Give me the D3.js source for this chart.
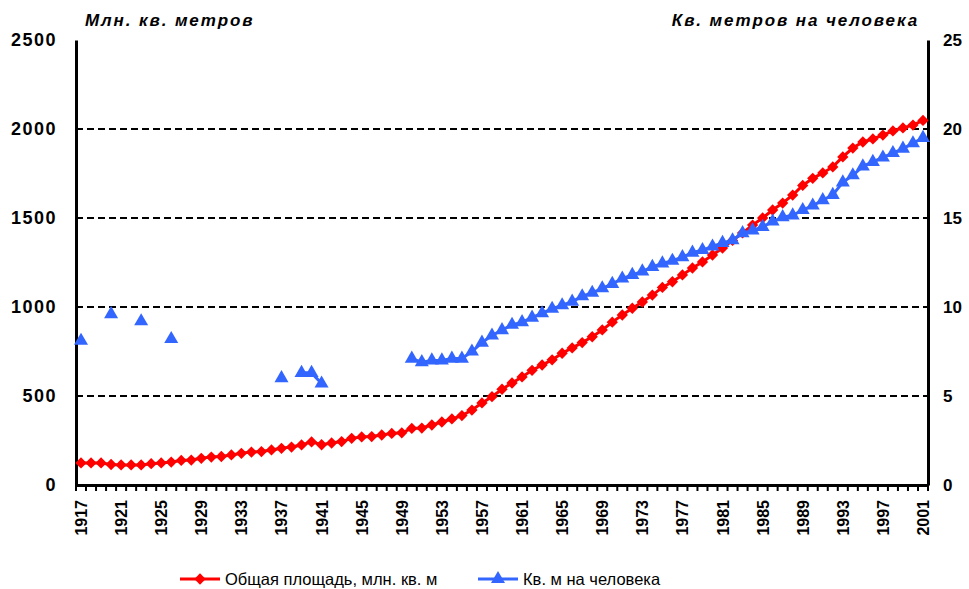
<!DOCTYPE html>
<html>
<head>
<meta charset="utf-8">
<script src="https://cdn.jsdelivr.net/npm/d3@7"></script>
<style>
  body { margin: 0; background: #fff; }
  text { font-family: "Liberation Sans", Arial, sans-serif; }
</style>
</head>
<body>
<div class="chart"></div>
<script>
// data
var years = d3.range(1917, 2002);
var labelYears = [1917, 1921, 1925, 1929, 1933, 1937, 1941, 1945, 1949, 1953, 1957,
  1961, 1965, 1969, 1973, 1977, 1981, 1985, 1989, 1993, 1997, 2001];
var leftTicks = [0, 500, 1000, 1500, 2000, 2500];
var rightTicks = [0, 5, 10, 15, 20, 25];
// общая площадь, млн. кв. м
var totalArea = [
  124, 124, 124, 115, 113, 113, 113, 120, 124, 129,        // 1917-1926
  138, 140, 150, 157, 160, 169, 178, 185, 188, 197,        // 1927-1936
  206, 213, 225, 242, 226, 236, 244, 262, 270, 272,        // 1937-1946
  281, 290, 293, 318, 320, 337, 354, 371, 390, 421,        // 1947-1956
  461, 496, 538, 573, 607, 644, 674, 703, 740, 770,        // 1957-1966
  800, 833, 871, 915, 955, 993, 1028, 1067, 1110, 1142,    // 1967-1976
  1180, 1219, 1253, 1292, 1331, 1374, 1416, 1460, 1500, 1545, // 1977-1986
  1584, 1629, 1683, 1723, 1753, 1787, 1843, 1893, 1927, 1944, // 1987-1996
  1966, 1989, 2006, 2022, 2048                              // 1997-2001
];
// кв. м на человека
var perPerson = [
  8.1, null, null, 9.6, null, null, 9.2, null, null, 8.2,      // 1917-1926
  null, null, null, null, null, null, null, null, null, null,  // 1927-1936
  6.0, null, 6.3, 6.3, 5.7, null, null, null, null, null,      // 1937-1946
  null, null, null, 7.1, 6.9, 7.0, 7.0, 7.1, 7.1, 7.5,         // 1947-1956
  8.0, 8.4, 8.7, 9.0, 9.15, 9.4, 9.65, 9.9, 10.1, 10.3,        // 1957-1966
  10.6, 10.8, 11.05, 11.3, 11.6, 11.8, 12.0, 12.25, 12.45, 12.6, // 1967-1976
  12.8, 13.05, 13.2, 13.4, 13.6, 13.75, 14.15, 14.3, 14.5, 14.8, // 1977-1986
  15.05, 15.15, 15.45, 15.7, 16.0, 16.3, 17.0, 17.4, 17.9, 18.15, // 1987-1996
  18.4, 18.65, 18.9, 19.2, 19.5                                  // 1997-2001
];
var redColor = "#ff0000", blueColor = "#3366ff";

var svgWidth = 969, svgHeight = 589;
var margin = {top: 40, right: 41, bottom: 104, left: 76};
var width = svgWidth - margin.left - margin.right;
var height = svgHeight - margin.top - margin.bottom;

var svg = d3.select(".chart").append("svg")
  .attr("width", svgWidth).attr("height", svgHeight);
var g = svg.append("g")
  .attr("transform", `translate(${margin.left}, ${margin.top})`);

var xScale = d3.scaleBand().domain(years).range([0, width]).padding(0);
var yLeft = d3.scaleLinear().domain([0, 2500]).range([height, 0]);
var yRight = d3.scaleLinear().domain([0, 25]).range([height, 0]);
var cx = d => xScale(d) + xScale.bandwidth() / 2;

// gridlines
g.selectAll(".grid").data([500, 1000, 1500, 2000]).enter().append("line")
  .attr("x1", 0).attr("x2", width)
  .attr("y1", d => yLeft(d)).attr("y2", d => yLeft(d))
  .attr("stroke", "#000").attr("stroke-width", 2)
  .attr("stroke-dasharray", "7,4");

// left axis
var leftAxis = g.append("g").call(d3.axisLeft(yLeft).tickValues(leftTicks)
  .tickFormat(d3.format("d")).tickSize(0).tickPadding(19));
leftAxis.select(".domain").attr("stroke-width", 3);
leftAxis.selectAll("text").attr("font-size", 18).attr("font-weight", "bold")
  .attr("letter-spacing", 1.5).attr("fill", "#000");

// right axis
var rightAxis = g.append("g").attr("transform", `translate(${width},0)`)
  .call(d3.axisRight(yRight).tickValues(rightTicks).tickSize(0).tickPadding(15));
rightAxis.select(".domain").attr("stroke-width", 3);
rightAxis.selectAll("text").attr("font-size", 17).attr("font-weight", "bold").attr("fill", "#000");

// bottom axis
var bottomAxis = g.append("g").attr("transform", `translate(0,${height})`)
  .call(d3.axisBottom(xScale).tickValues(labelYears).tickSize(0).tickPadding(0));
bottomAxis.select(".domain").attr("stroke-width", 3);
bottomAxis.selectAll("text")
  .attr("font-size", 16).attr("font-weight", "bold").attr("fill", "#000")
  .attr("text-anchor", "end").attr("dy", null)
  .attr("transform", "translate(6,15) rotate(-90)");
// category boundary ticks
g.append("g").selectAll("line").data(years.concat([null])).enter().append("line")
  .attr("x1", (d, i) => i * xScale.bandwidth()).attr("x2", (d, i) => i * xScale.bandwidth())
  .attr("y1", height).attr("y2", height + 6)
  .attr("stroke", "#000").attr("stroke-width", 2);

// red series
var redLine = d3.line().x((d, i) => cx(years[i])).y(d => yLeft(d));
g.append("path").attr("d", redLine(totalArea))
  .attr("fill", "none").attr("stroke", redColor).attr("stroke-width", 3);
var diamond = d3.symbol().type(d3.symbolSquare).size(64);
g.selectAll(".red").data(totalArea).enter().append("path")
  .attr("d", diamond)
  .attr("transform", (d, i) => `translate(${cx(years[i])},${yLeft(d)}) rotate(45)`)
  .attr("fill", redColor);

// blue series
var blueLine = d3.line().defined(d => d != null).x((d, i) => cx(years[i])).y(d => yRight(d));
g.append("path").attr("d", blueLine(perPerson))
  .attr("fill", "none").attr("stroke", blueColor).attr("stroke-width", 3);
var triangle = d3.symbol().type(d3.symbolTriangle).size(85);
g.selectAll(".blue").data(perPerson.map((v, i) => ({v: v, y: years[i]})).filter(d => d.v != null))
  .enter().append("path")
  .attr("d", triangle)
  .attr("transform", d => `translate(${cx(d.y)},${yRight(d.v)})`)
  .attr("fill", blueColor);

// axis titles
svg.append("text").attr("x", 85).attr("y", 26)
  .attr("font-size", 17).attr("font-weight", "bold").attr("font-style", "italic")
  .attr("letter-spacing", 1.9)
  .text("Млн. кв. метров");
svg.append("text").attr("x", 919).attr("y", 26).attr("text-anchor", "end")
  .attr("font-size", 17).attr("font-weight", "bold").attr("font-style", "italic")
  .attr("letter-spacing", 1.9)
  .text("Кв. метров на человека");

// legend
var legendItems = [
  {label: "Общая площадь, млн. кв. м", color: redColor, sym: diamond, rot: 45, x: 180},
  {label: "Кв. м на человека", color: blueColor, sym: triangle, rot: 0, x: 478}
];
var legend = svg.selectAll(".legend").data(legendItems).enter().append("g")
  .attr("transform", d => `translate(${d.x},579)`);
legend.append("line").attr("x1", 0).attr("x2", 40).attr("y1", 0).attr("y2", 0)
  .attr("stroke", d => d.color).attr("stroke-width", 3);
legend.append("path").attr("d", d => d.sym())
  .attr("transform", d => `translate(20,0) rotate(${d.rot})`)
  .attr("fill", d => d.color);
legend.append("text").attr("x", 45).attr("y", 6)
  .attr("font-size", 16.5).text(d => d.label);
</script>
</body>
</html>
